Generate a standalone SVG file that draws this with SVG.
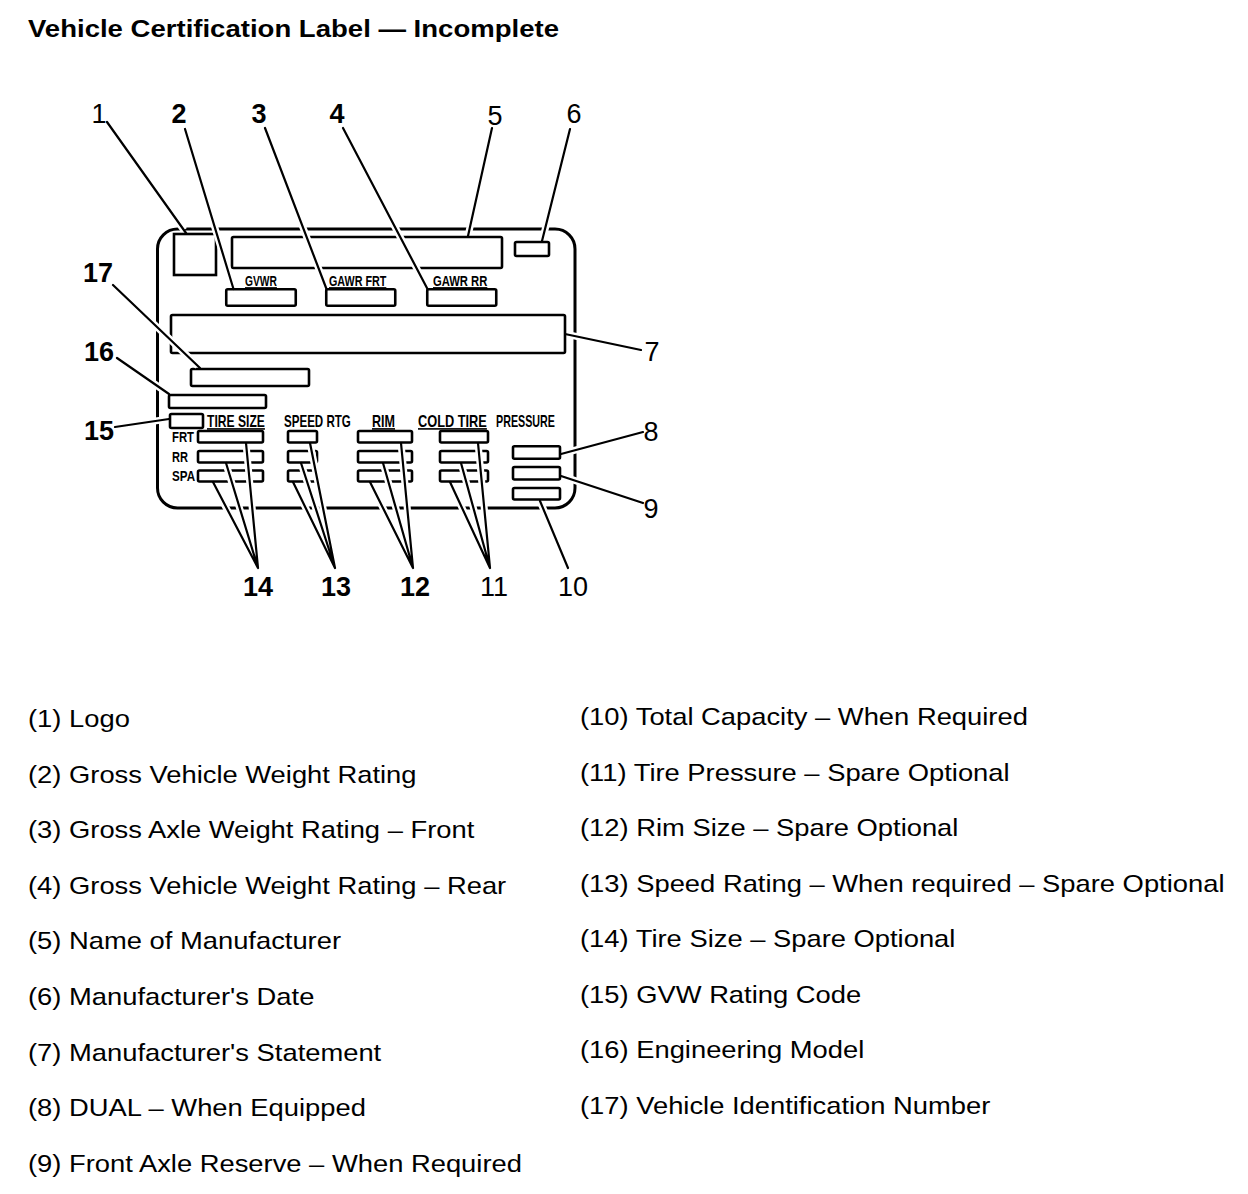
<svg xmlns="http://www.w3.org/2000/svg" width="1248" height="1194" viewBox="0 0 1248 1194">
<style>
.frame{fill:none;stroke:#000;stroke-width:3}
.box{fill:none;stroke:#000;stroke-width:2.6}
.num{font-family:"Liberation Sans",Arial,sans-serif;font-size:27px;text-anchor:middle;fill:#000}
.b{font-weight:bold}
.sm{font-family:"Liberation Sans",Arial,sans-serif;font-size:14px;font-weight:bold;fill:#000}
.sm2{font-family:"Liberation Sans",Arial,sans-serif;font-size:16px;font-weight:bold;fill:#000}
.u{text-decoration:underline}
.leg{font-family:"Liberation Sans",Arial,sans-serif;font-size:24px;fill:#000}
.title{font-family:"Liberation Sans",Arial,sans-serif;font-size:23.5px;font-weight:bold;fill:#000}
.halo{fill:none;stroke:#fff;stroke-width:7;stroke-linecap:butt}
.ln{fill:none;stroke:#000;stroke-width:2.2;stroke-linecap:round}
</style>
<rect width="1248" height="1194" fill="#fff"/>
<text class="title" x="28" y="37" textLength="531" lengthAdjust="spacingAndGlyphs">Vehicle Certification Label — Incomplete</text>

<g id="label-frame"><rect class="frame" x="157.5" y="229" width="417.5" height="279" rx="20"/></g>
<g id="logo-box"><rect class="box" x="174" y="234" width="42" height="41"/></g>
<g id="manufacturer-box"><rect class="box" x="232" y="237" width="270" height="31" rx="1.5"/></g>
<g id="date-box"><rect class="box" x="515" y="242" width="34" height="14" rx="1.5"/></g>
<g id="gvwr-box"><text class="sm u" transform="translate(245 286) scale(0.734 1)">GVWR</text><rect class="box" x="226.25" y="289.25" width="69.5" height="16.5" rx="1.5"/></g>
<g id="gawr-frt-box"><text class="sm u" transform="translate(329 286) scale(0.769 1)">GAWR FRT</text><rect class="box" x="326.25" y="289.25" width="69" height="16.5" rx="1.5"/></g>
<g id="gawr-rr-box"><text class="sm u" transform="translate(433 286) scale(0.804 1)">GAWR RR</text><rect class="box" x="427.25" y="289.25" width="69" height="16.5" rx="1.5"/></g>
<g id="statement-box"><rect class="box" x="171" y="315" width="394" height="38" rx="1.5"/></g>
<g id="vin-box"><rect class="box" x="191" y="369" width="118" height="17" rx="1.5"/></g>
<g id="eng-model-box"><rect class="box" x="169" y="395" width="97" height="13" rx="1.5"/></g>
<g id="gvw-code-box"><rect class="box" x="170" y="414" width="33" height="14" rx="1.5"/></g>
<g id="row-labels">
<text class="sm" transform="translate(172 442) scale(0.81 1)">FRT</text>
<text class="sm" transform="translate(172 461.5) scale(0.79 1)">RR</text>
<text class="sm" transform="translate(172 481) scale(0.83 1)">SPA</text>
</g>
<g id="tire-size-boxes"><text class="sm2 u" transform="translate(207 427) scale(0.758 1)">TIRE SIZE</text>
<rect class="box" x="198" y="431" width="65" height="11.5" rx="1.5"/><rect class="box" x="198" y="451" width="65" height="11.5" rx="1.5"/><rect class="box" x="198" y="470.5" width="65" height="11" rx="1.5"/></g>
<g id="speed-rtg-boxes"><text class="sm2" transform="translate(284 427) scale(0.724 1)">SPEED RTG</text>
<rect class="box" x="288" y="431" width="29" height="11.5" rx="1.5"/><rect class="box" x="288" y="451" width="29" height="11.5" rx="1.5"/><rect class="box" x="288" y="470.5" width="29" height="11" rx="1.5"/></g>
<g id="rim-boxes"><text class="sm2 u" transform="translate(372 427) scale(0.785 1)">RIM</text>
<rect class="box" x="358" y="431" width="54" height="11.5" rx="1.5"/><rect class="box" x="358" y="451" width="54" height="11.5" rx="1.5"/><rect class="box" x="358" y="470.5" width="54" height="11" rx="1.5"/></g>
<g id="cold-tire-boxes"><text class="sm2 u" transform="translate(418 427) scale(0.8 1)">COLD TIRE</text><text class="sm2" transform="translate(496 427) scale(0.67 1)">PRESSURE</text>
<rect class="box" x="440" y="431" width="48" height="11.5" rx="1.5"/><rect class="box" x="440" y="451" width="48" height="11.5" rx="1.5"/><rect class="box" x="440" y="470.5" width="48" height="11" rx="1.5"/></g>
<g id="dual-box"><rect class="box" x="513" y="446.25" width="47" height="12.5" rx="1.5"/></g>
<g id="front-axle-box"><rect class="box" x="513" y="467" width="47" height="12.5" rx="1.5"/></g>
<g id="capacity-box"><rect class="box" x="513" y="488" width="47" height="11.5" rx="1.5"/></g>

<g id="connectors">
<g class="halo">
<path d="M107,122L184,230.1M185,129L232.6,286.1M265,128L325.4,286.2M343,128L426.1,286.3M492,128L468.7,233.1M570,129L542.7,239.1M567.9,334.6L641,350M563.9,453.2L643,432M563.9,476.9L643,503M541.2,503.8L568,568M113,285L197.8,365.9M117,358L166.1,392M115,427L166,419.4"/>
<path d="M246.3,447L258,568M226.9,466.9L258,568M214.4,485.7L258,568M310.6,446L335,568M301.9,465.9L335,568M294.3,484.7L335,568M401.3,446L413,568M383.8,465.9L413,568M371.3,484.7L413,568M478.3,446L490,568M461.8,465.9L490,568M451.3,484.7L490,568"/>
</g>
<g class="ln">
<path d="M107,122L186,233M185,129L233.5,289M265,128L326.5,289M343,128L427.5,289M492,128L468,236M570,129L542,241M565,334L641,350M561,454L643,432M561,476L643,503M540,501L568,568M113,285L200,368M117,358L169,394M115,427L169,419"/>
<path d="M246,443L258,568M226,463L258,568M213,482L258,568M310,443L335,568M301,463L335,568M293,482L335,568M401,443L413,568M383,463L413,568M370,482L413,568M478,443L490,568M461,463L490,568M450,482L490,568"/>
</g>
</g>

<g id="callout-1"><text class="num" x="99" y="123">1</text></g>
<g id="callout-2"><text class="num b" x="179" y="123">2</text></g>
<g id="callout-3"><text class="num b" x="259" y="123">3</text></g>
<g id="callout-4"><text class="num b" x="337" y="123">4</text></g>
<g id="callout-5"><text class="num" x="495" y="125">5</text></g>
<g id="callout-6"><text class="num" x="574" y="123">6</text></g>
<g id="callout-7"><text class="num" x="652" y="361">7</text></g>
<g id="callout-8"><text class="num" x="651" y="441">8</text></g>
<g id="callout-9"><text class="num" x="651" y="518">9</text></g>
<g id="callout-10"><text class="num" x="573" y="596">10</text></g>
<g id="callout-11"><text class="num" x="494" y="596">11</text></g>
<g id="callout-12"><text class="num b" x="415" y="596">12</text></g>
<g id="callout-13"><text class="num b" x="336" y="596">13</text></g>
<g id="callout-14"><text class="num b" x="258" y="596">14</text></g>
<g id="callout-15"><text class="num b" x="99" y="440">15</text></g>
<g id="callout-16"><text class="num b" x="99" y="361">16</text></g>
<g id="callout-17"><text class="num b" x="98" y="282">17</text></g>

<g id="legend" transform="scale(1.14 1)">
<text class="leg" x="24.56" y="727">(1) Logo</text>
<text class="leg" x="24.56" y="782.6">(2) Gross Vehicle Weight Rating</text>
<text class="leg" x="24.56" y="838.2">(3) Gross Axle Weight Rating – Front</text>
<text class="leg" x="24.56" y="893.8">(4) Gross Vehicle Weight Rating – Rear</text>
<text class="leg" x="24.56" y="949.4">(5) Name of Manufacturer</text>
<text class="leg" x="24.56" y="1005">(6) Manufacturer's Date</text>
<text class="leg" x="24.56" y="1060.6">(7) Manufacturer's Statement</text>
<text class="leg" x="24.56" y="1116.2">(8) DUAL – When Equipped</text>
<text class="leg" x="24.56" y="1171.8">(9) Front Axle Reserve – When Required</text>
<text class="leg" x="508.77" y="725.5">(10) Total Capacity – When Required</text>
<text class="leg" x="508.77" y="781">(11) Tire Pressure – Spare Optional</text>
<text class="leg" x="508.77" y="836.5">(12) Rim Size – Spare Optional</text>
<text class="leg" x="508.77" y="892">(13) Speed Rating – When required – Spare Optional</text>
<text class="leg" x="508.77" y="947.5">(14) Tire Size – Spare Optional</text>
<text class="leg" x="508.77" y="1003">(15) GVW Rating Code</text>
<text class="leg" x="508.77" y="1058.5">(16) Engineering Model</text>
<text class="leg" x="508.77" y="1114">(17) Vehicle Identification Number</text>
</g>
</svg>
